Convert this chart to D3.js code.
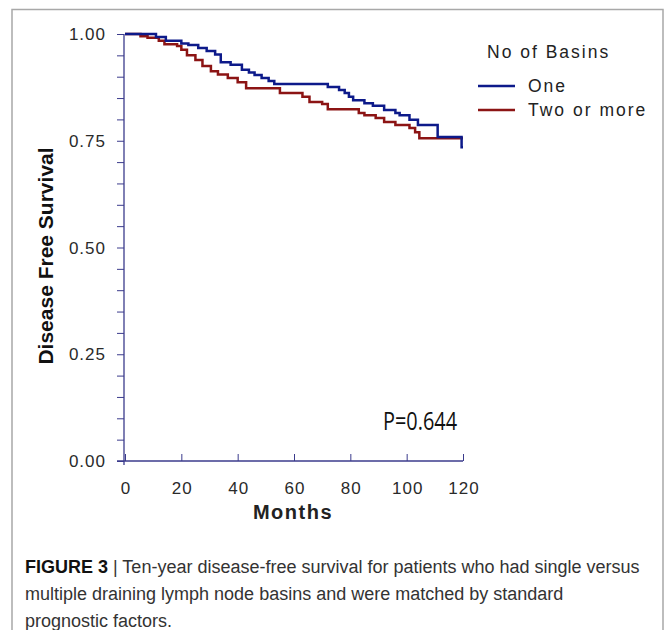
<!DOCTYPE html>
<html>
<head>
<script src="https://d3js.org/d3.v7.min.js"></script>
<style>
  html, body { margin: 0; padding: 0; background: #fff; }
  svg { display: block; }
  .tick-label { font-family: "Liberation Sans", Arial, sans-serif; font-size: 17px; fill: #2a2a2a; letter-spacing: 1px; }
  .caption { font-family: "Liberation Sans Narrow", "Liberation Sans", Arial, sans-serif; font-size: 18px; fill: #333; }
</style>
</head>
<body>
<div id="chart"></div>
<script>
// Kaplan-Meier steps
var oneMonths = [0, 11, 14.5, 20, 22.5, 26, 29, 32, 34, 37.5, 41.5, 44, 46, 48.5, 51, 53, 72, 76, 78, 79.5, 81, 85, 88, 92, 96, 97.5, 101, 104, 111, 119.5, 120];
var oneSurv   = [1.0, 0.993, 0.984, 0.978, 0.974, 0.967, 0.96, 0.952, 0.934, 0.928, 0.916, 0.91, 0.904, 0.897, 0.89, 0.883, 0.876, 0.869, 0.862, 0.853, 0.845, 0.838, 0.832, 0.822, 0.815, 0.81, 0.799, 0.787, 0.759, 0.735, 0.735];

var twoMonths = [0, 5.5, 8, 12, 14, 18.5, 20, 22, 25, 27.5, 30.5, 33, 36.5, 40, 43, 55, 63, 65.5, 70, 72, 83, 85, 89, 92, 96, 101, 103, 104.5, 120];
var twoSurv   = [1.0, 0.995, 0.991, 0.984, 0.976, 0.972, 0.963, 0.95, 0.939, 0.925, 0.913, 0.905, 0.897, 0.887, 0.873, 0.862, 0.853, 0.841, 0.836, 0.824, 0.815, 0.81, 0.803, 0.794, 0.787, 0.78, 0.77, 0.756, 0.756];

var xTicks = [0, 20, 40, 60, 80, 100, 120];
var yMajor = [0, 0.25, 0.5, 0.75, 1.0];
var yMinor = d3.range(0, 21).map(function(i) { return i * 0.05; });

var legendTitle = "No of Basins";
var seriesNames = ["One", "Two or more"];
var seriesColors = ["#0d1a8a", "#8c1414"];
var pText = "P=0.644";

var width = 667, height = 630;
var svg = d3.select("#chart").append("svg")
    .attr("width", width)
    .attr("height", height);

// outer figure frame (open at bottom)
svg.append("path")
    .attr("d", "M12,630 L12,9.5 L663,9.5 L663,630")
    .attr("fill", "none")
    .attr("stroke", "#a8a8a8")
    .attr("stroke-width", 1.5);

var x = d3.scaleLinear().domain([0, 120]).range([125, 463]);
var y = d3.scaleLinear().domain([0, 1]).range([461, 34]);
var axisColor = "#3b3b8c";

// y axis
var yAxis = svg.append("g").attr("transform", "translate(124,0)");
yAxis.call(d3.axisLeft(y).tickValues(yMinor).tickSize(7).tickFormat(""));
yAxis.select(".domain").remove();
yAxis.selectAll("line").attr("stroke", axisColor);
yAxis.append("line")
    .attr("x1", 0).attr("x2", 0)
    .attr("y1", y(1)).attr("y2", y(0) + 4)
    .attr("stroke", axisColor).attr("stroke-width", 1.3);

svg.selectAll(".ylab").data(yMajor).enter().append("text")
    .attr("class", "tick-label")
    .attr("x", 106)
    .attr("y", function(d) { return y(d) + 6; })
    .attr("text-anchor", "end")
    .text(function(d) { return d.toFixed(2); });

// x axis
var xAxis = svg.append("g").attr("transform", "translate(0,461)");
xAxis.call(d3.axisTop(x).tickValues(xTicks).tickSize(7).tickFormat(""));
xAxis.select(".domain").remove();
xAxis.selectAll("line").attr("stroke", axisColor);
xAxis.append("line")
    .attr("x1", 117).attr("x2", x(120))
    .attr("y1", 0).attr("y2", 0)
    .attr("stroke", axisColor).attr("stroke-width", 1.3);

svg.selectAll(".xlab").data(xTicks).enter().append("text")
    .attr("class", "tick-label")
    .attr("x", function(d) { return x(d) + 1; })
    .attr("y", 494)
    .attr("text-anchor", "middle")
    .text(function(d) { return d; });

svg.append("text")
    .attr("x", 293).attr("y", 519)
    .attr("text-anchor", "middle")
    .attr("font-family", "Liberation Sans, Arial, sans-serif")
    .attr("font-weight", "bold")
    .attr("font-size", 20)
    .attr("letter-spacing", 1.5)
    .attr("fill", "#222")
    .text("Months");

svg.append("text")
    .attr("transform", "translate(53,256) rotate(-90)")
    .attr("text-anchor", "middle")
    .attr("font-family", "Liberation Sans, Arial, sans-serif")
    .attr("font-weight", "bold")
    .attr("font-size", 21)
    .attr("fill", "#111")
    .text("Disease Free Survival");

// survival curves
var line = d3.line()
    .x(function(d) { return x(d[0]); })
    .y(function(d) { return y(d[1]); })
    .curve(d3.curveStepAfter);

var series = [d3.zip(twoMonths, twoSurv), d3.zip(oneMonths, oneSurv)];
var seriesCol = [seriesColors[1], seriesColors[0]];
svg.selectAll(".km").data(series).enter().append("path")
    .attr("d", line)
    .attr("fill", "none")
    .attr("stroke", function(d, i) { return seriesCol[i]; })
    .attr("stroke-width", 2.5);

// legend
svg.append("text")
    .attr("x", 487).attr("y", 58)
    .attr("font-family", "Liberation Sans, Arial, sans-serif")
    .attr("font-size", 17.5)
    .attr("letter-spacing", 2)
    .attr("fill", "#222")
    .text(legendTitle);

var leg = svg.selectAll(".leg").data(seriesNames).enter().append("g")
    .attr("transform", function(d, i) { return "translate(0," + (86 + i * 24) + ")"; });
leg.append("line")
    .attr("x1", 478).attr("x2", 515)
    .attr("stroke", function(d, i) { return seriesColors[i]; })
    .attr("stroke-width", 2.5);
leg.append("text")
    .attr("x", 528).attr("y", 6)
    .attr("font-family", "Liberation Sans, Arial, sans-serif")
    .attr("font-size", 17.5)
    .attr("letter-spacing", 2)
    .attr("fill", "#222")
    .text(function(d) { return d; });

svg.append("text")
    .attr("x", 383).attr("y", 430)
    .attr("font-family", "Open Sans, sans-serif")
    .attr("font-size", 26)
    .attr("textLength", 74)
    .attr("lengthAdjust", "spacingAndGlyphs")
    .attr("fill", "#111")
    .text(pText);

// caption
var lines = [
  [["FIGURE 3", true], [" | Ten-year disease-free survival for patients who had single versus", false]],
  [["multiple draining lymph node basins and were matched by standard", false]],
  [["prognostic factors.", false]]
];
lines.forEach(function(parts, i) {
  var t = svg.append("text").attr("class", "caption")
      .attr("x", 25).attr("y", 573 + i * 27);
  parts.forEach(function(p) {
    t.append("tspan")
      .attr("font-weight", p[1] ? "bold" : "normal")
      .attr("fill", p[1] ? "#111" : "#333")
      .text(p[0]);
  });
});
</script>
</body>
</html>
